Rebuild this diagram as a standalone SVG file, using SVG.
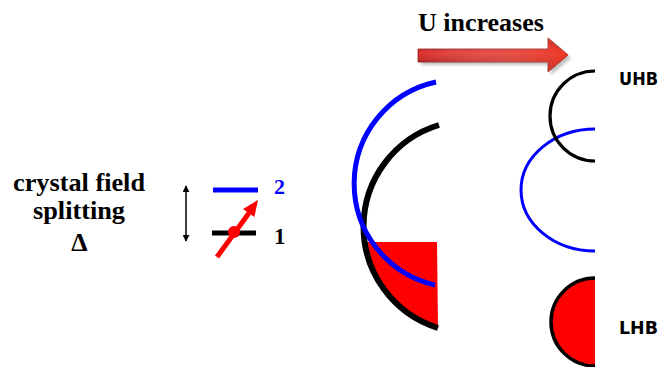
<svg xmlns="http://www.w3.org/2000/svg" width="661" height="367" viewBox="0 0 661 367">
<style>
.serif{font-family:"Liberation Serif","Times New Roman",serif;font-weight:bold;}
.hand{font-family:"DejaVu Sans","Liberation Sans",sans-serif;font-weight:bold;font-size:18px;fill:#000;}
.band{fill:none;}
</style>
<defs>
<linearGradient id="ug" x1="0" y1="0" x2="0" y2="1">
<stop offset="0" stop-color="#9c1c1c"/>
<stop offset="0.45" stop-color="#e0332e"/>
<stop offset="1" stop-color="#8e1a1a"/>
</linearGradient>
<linearGradient id="ugh" x1="0" y1="0" x2="1" y2="0">
<stop offset="0" stop-color="#ffffff" stop-opacity="0"/>
<stop offset="1" stop-color="#ff3b20" stop-opacity="0.55"/>
</linearGradient>
<filter id="sh" x="-10%" y="-30%" width="130%" height="180%">
<feGaussianBlur stdDeviation="1.5"/>
</filter>
<marker id="ah" viewBox="0 0 10 10" refX="9" refY="5" markerWidth="7" markerHeight="7" orient="auto-start-reverse" markerUnits="userSpaceOnUse">
<path d="M0,0 L10,5 L0,10 Z" fill="#000"/>
</marker>
</defs>

<g id="label-crystal-field">
<text class="serif" x="79" y="191" font-size="25" text-anchor="middle" textLength="132" lengthAdjust="spacingAndGlyphs">crystal field</text>
<text class="serif" x="79" y="219" font-size="25" text-anchor="middle" textLength="92" lengthAdjust="spacingAndGlyphs">splitting</text>
<text class="serif" x="79.5" y="251" font-size="26" text-anchor="middle">Δ</text>
</g>

<g id="connectors">
<line x1="186" y1="186" x2="186" y2="241" stroke="#000" stroke-width="1.5" marker-start="url(#ah)" marker-end="url(#ah)"/>
</g>

<g id="level-2">
<line x1="213" y1="190" x2="258" y2="190" stroke="#0000ff" stroke-width="5"/>
<text class="serif" x="274" y="194" font-size="22" fill="#0000ff">2</text>
</g>

<g id="level-1">
<line x1="212" y1="233" x2="256" y2="233" stroke="#000" stroke-width="5"/>
<text class="serif" x="274" y="244" font-size="23" fill="#000">1</text>
</g>

<g id="electron">
<line x1="217" y1="257" x2="249" y2="213" stroke="#ff0000" stroke-width="5"/>
<polygon points="258,200 254.4,217.1 243,208.9" fill="#ff0000"/>
<circle cx="234" cy="232" r="6" fill="#ff0000"/>
</g>

<g id="u-increases">
<polygon points="421,52 551,52 551,41 571,58 551,75 551,65 421,65" fill="#777" opacity="0.45" filter="url(#sh)"/>
<polygon points="418,49 548,49 548,38 568,55 548,72 548,62 418,62" fill="url(#ug)" stroke="#8a2020" stroke-width="0.8"/>
<polygon points="418,49 548,49 548,38 568,55 548,72 548,62 418,62" fill="url(#ugh)"/>
<text class="serif" x="418" y="31" font-size="26" fill="#000">U increases</text>
</g>

<g id="metal-bands">
<path d="M437,242 L364,242 A106.2,106.2 0 0 0 438,328 Z" fill="#ff0000"/>
<path class="band" d="M439,125 A106.2,106.2 0 0 0 438,328" stroke="#000" stroke-width="6"/>
<path class="band" d="M436,82 A104,104 0 0 0 435,285" stroke="#0000ff" stroke-width="5"/>
</g>

<g id="blue-band">
<path class="band" d="M595,129 A74,61 0 0 0 595,251" stroke="#0000ff" stroke-width="3"/>
</g>

<g id="uhb">
<path class="band" d="M595,71 A45,45 0 0 0 595,161" stroke="#000" stroke-width="3.2"/>
<text class="hand" x="619" y="85" textLength="39" lengthAdjust="spacingAndGlyphs">UHB</text>
</g>

<g id="lhb">
<path d="M595,278 A44,44 0 0 0 595,366" fill="#ff0000" stroke="#000" stroke-width="3.5"/>
<text class="hand" x="619" y="334" textLength="39" lengthAdjust="spacingAndGlyphs">LHB</text>
</g>
</svg>
